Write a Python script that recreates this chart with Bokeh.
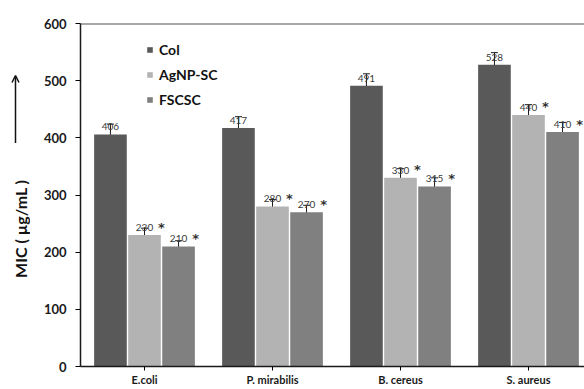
from bokeh.plotting import figure
from bokeh.layouts import row
from bokeh.models import (ColumnDataSource, FixedTicker, Whisker, TeeHead, Span,
                          Arrow, OpenHead, Legend, LegendItem, Range1d)
from bokeh.embed import file_html
from bokeh.resources import INLINE
from bokeh.core.properties import value
import math

categories = ["E.coli", "P. mirabilis", "B. cereus", "S. aureus"]
series_names = ["Col", "AgNP-SC", "FSCSC"]
col = [406, 417, 491, 528]
agnp = [230, 280, 330, 440]
fscsc = [210, 270, 315, 410]
col_err = [18, 20, 21, 21]
agnp_err = [12, 12, 16, 18]
fscsc_err = [10, 12, 15, 17]
significant = [False, True, True]
y_ticks = [0, 100, 200, 300, 400, 500, 600]
y_title = "MIC ( µg/mL )"

colors = ["#595959", "#b3b3b3", "#808080"]
offsets = [-0.266, 0.0, 0.266]
bar_w = 0.255

H = 389
TOP = 23
BOTTOM = 23
yr = Range1d(0, 600)

# narrow left panel holding the rotated axis title and the arrow
t = figure(width=30, height=H, output_backend="svg", toolbar_location=None,
           x_range=Range1d(0, 30), y_range=yr,
           min_border_left=0, min_border_right=0, min_border_top=TOP, min_border_bottom=BOTTOM)
t.axis.visible = False
t.grid.visible = False
t.outline_line_color = None
t.text(x=[20], y=[241], text=[y_title], angle=math.pi / 2, text_align="center",
       text_baseline="middle", text_font=value("Lato"), text_font_style="bold",
       text_font_size="16px", text_color="#111111")
t.add_layout(Arrow(x_start=15, y_start=391, x_end=15, y_end=509,
                   line_color="#111111", line_width=1.5,
                   end=OpenHead(size=7, line_color="#111111", line_width=1.5)))

p = figure(width=554, height=H, output_backend="svg", toolbar_location=None,
           x_range=Range1d(-0.5, 3.4375), y_range=yr,
           min_border_left=50, min_border_top=TOP, min_border_right=0, min_border_bottom=BOTTOM)
p.outline_line_color = None
p.xgrid.visible = False
p.ygrid.visible = False

items = []
for vals, errs, name, c, off, sig in zip([col, agnp, fscsc], [col_err, agnp_err, fscsc_err],
                                        series_names, colors, offsets, significant):
    xs = [i + off for i in range(len(categories))]
    src = ColumnDataSource(dict(x=xs, top=vals,
                                upper=[v + e for v, e in zip(vals, errs)],
                                lower=[v - e for v, e in zip(vals, errs)],
                                lab=[str(v) for v in vals],
                                star=["*" if sig else "" for _ in vals]))
    r = p.vbar(x="x", top="top", width=bar_w, source=src, fill_color=c, line_color=None)
    items.append(LegendItem(label=name, renderers=[r]))
    p.text(x="x", y="top", text="lab", source=src, text_align="center", text_baseline="bottom",
           y_offset=-4, text_font=value("Lato"), text_font_size="10px", text_color="#3a3a3a")
    p.text(x="x", y="top", text="star", source=src, text_align="center", text_baseline="middle",
           x_offset=17, y_offset=-8, text_font=value("DejaVu Sans"), text_font_size="13px",
           text_font_style="bold", text_color="#333333")
    w = Whisker(source=src, base="x", upper="upper", lower="lower", line_color="#1a1a1a",
                line_width=1,
                upper_head=TeeHead(size=7, line_color="#1a1a1a", line_width=1),
                lower_head=TeeHead(size=7, line_color="#1a1a1a", line_width=1))
    p.add_layout(w)

legend = Legend(items=items, location=(66, 258), orientation="vertical",
                border_line_color=None, background_fill_alpha=0, padding=0, margin=0,
                glyph_width=7, glyph_height=7, label_height=18, spacing=7, label_standoff=6,
                label_text_font="Lato", label_text_font_size="14px", label_text_font_style="bold",
                label_text_color="#111111")
p.add_layout(legend)

p.add_layout(Span(location=600, dimension="width", line_color="#505050", line_width=2))

p.xaxis.ticker = FixedTicker(ticks=list(range(len(categories))))
p.xaxis.major_label_overrides = {i: c for i, c in enumerate(categories)}
p.xaxis.major_tick_out = 4
p.xaxis.major_tick_in = 0
p.xaxis.minor_tick_line_color = None
p.xaxis.axis_line_color = "#1a1a1a"
p.xaxis.axis_line_width = 1.5
p.xaxis.major_label_standoff = 2
p.xaxis.major_label_text_font = "Lato"
p.xaxis.major_label_text_font_style = "bold"
p.xaxis.major_label_text_font_size = "11px"
p.xaxis.major_label_text_color = "#1a1a1a"

p.yaxis.ticker = FixedTicker(ticks=y_ticks)
p.yaxis.major_tick_out = 5
p.yaxis.major_tick_in = 0
p.yaxis.minor_tick_line_color = None
p.yaxis.axis_line_color = "#1a1a1a"
p.yaxis.axis_line_width = 1.5
p.yaxis.major_label_standoff = 9
p.yaxis.major_label_text_font = "Lato"
p.yaxis.major_label_text_font_style = "bold"
p.yaxis.major_label_text_font_size = "13px"
p.yaxis.major_label_text_color = "#1a1a1a"

layout = row(t, p, spacing=0)
open("out.html", "w").write(file_html(layout, INLINE))
